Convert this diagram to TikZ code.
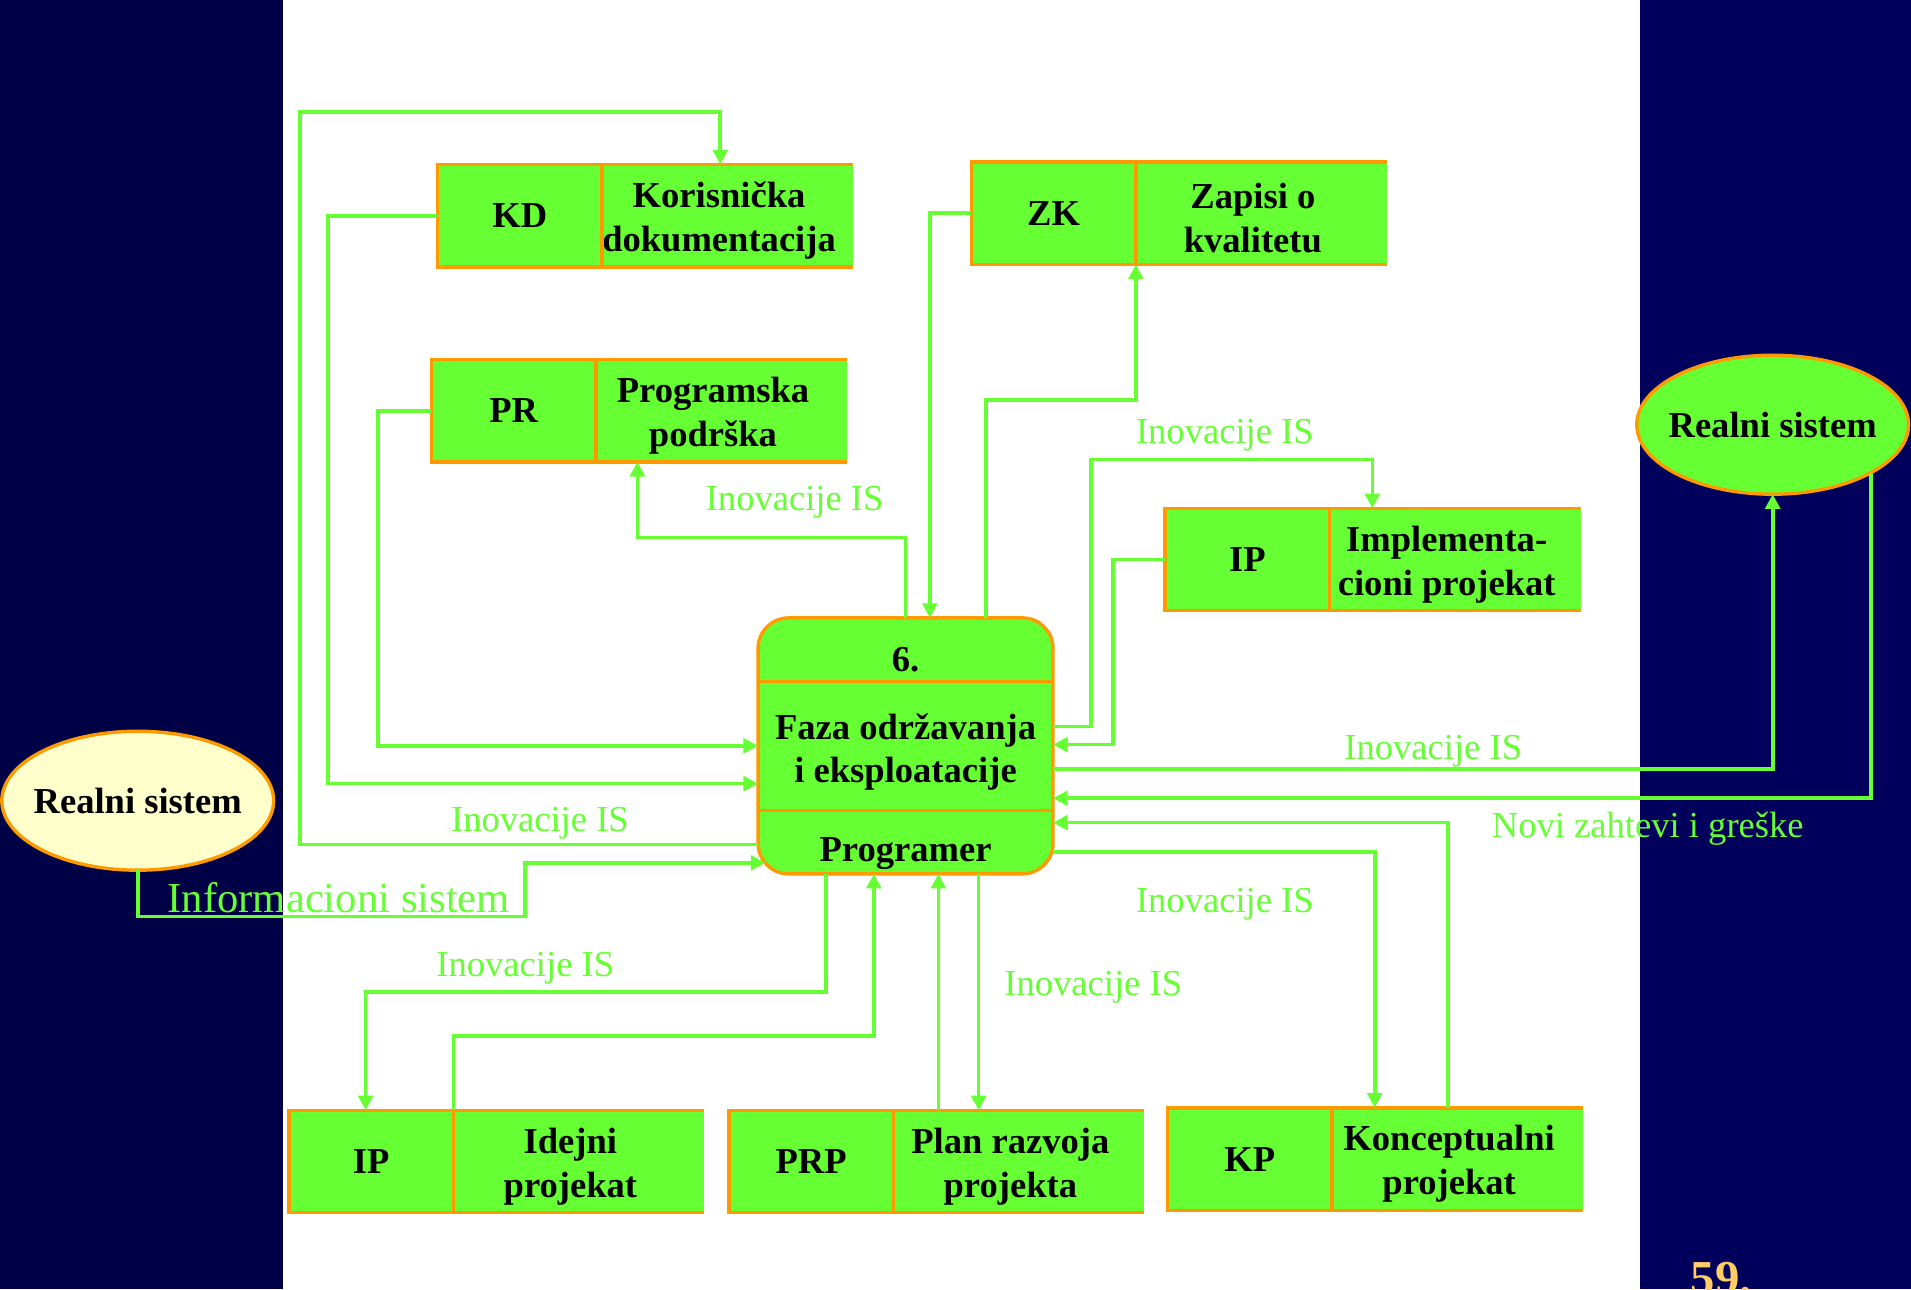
\documentclass[tikz,border=0pt]{standalone}
\usepackage{fontspec}
\setmainfont{Liberation Serif}
\usetikzlibrary{arrows.meta,positioning,calc,shapes.geometric}

\definecolor{navyL}{HTML}{000046}
\definecolor{navyR}{HTML}{00005C}
\definecolor{dfdgreen}{HTML}{66FF33}
\definecolor{dfdorange}{HTML}{FF9900}
\definecolor{extyellow}{HTML}{FFFFCC}
\definecolor{pagenum}{HTML}{FFCC66}

\begin{document}
\begin{tikzpicture}[x=0.5pt,y=-0.5pt,>={Triangle[length=6pt,width=6pt]},
  store/.style={fill=dfdgreen,minimum height=42pt,inner sep=0pt,outer sep=0pt,align=center,font=\fontsize{15}{18}\selectfont\bfseries},
  sid/.style={store,minimum width=67.5pt},
  sname/.style={store,minimum width=103pt,label={[ptxt,xshift=-3.5pt,yshift=-2pt]center:{#1}}},
  border/.style={draw=dfdorange,line width=1.4pt},
  flow/.style={draw=dfdgreen,line width=1.5pt},
  proc/.style={border,fill=dfdgreen,rounded corners=12.5pt,minimum width=121pt,minimum height=105pt,inner sep=0pt,outer sep=0pt},
  ptxt/.style={font=\fontsize{15}{18}\selectfont\bfseries,align=center,inner sep=0pt},
  ext/.style={border,ellipse,minimum width=111.5pt,minimum height=57pt,inner sep=0pt,outer sep=0pt,label={[ptxt]center:#1}},
  lab/.style={text=dfdgreen,font=\fontsize{15}{18}\selectfont,inner sep=0pt,anchor=base}]
  \useasboundingbox (0,0) rectangle (1568,1058);
  % slide background
  \fill[navyL] (0,0) rectangle (232,1058);
  \fill[navyR] (1346,0) rectangle (1568,1058);
  \fill[white] (232,0) rectangle (1346,1058);

  % data stores
  \node[sid] (kd) at (426.5,177) {KD};
  \node[sname={Korisnička\\dokumentacija},right=0pt of kd] (kdname) {};
  \node[sid] (zk) at (864.5,175) {ZK};
  \node[sname={Zapisi o\\kvalitetu},right=0pt of zk] (zkname) {};
  \node[sid] (pr) at (421.5,337) {PR};
  \node[sname={Programska\\podrška},right=0pt of pr] (prname) {};
  \node[sid] (ipi) at (1023.5,459) {IP};
  \node[sname={Implementa-\\cioni projekat},right=0pt of ipi] (ipiname) {};
  \node[sid] (ipd) at (304.5,953) {IP};
  \node[sname={Idejni\\projekat},right=0pt of ipd] (ipdname) {};
  \node[sid] (prp) at (665.5,953) {PRP};
  \node[sname={Plan razvoja\\projekta},right=0pt of prp] (prpname) {};
  \node[sid] (kp) at (1025.5,951) {KP};
  \node[sname={Konceptualni\\projekat},right=0pt of kp] (kpname) {};
  \foreach \s in {kd,zk,pr,ipi,ipd,prp,kp}{
    \draw[border] (\s name.north east) -- (\s.north west) -- (\s.south west) -- (\s name.south east);
    \draw[border] (\s.north east) -- (\s.south east);
  }

  % process 6
  \node[proc] (proc) at (743,612) {};
  \draw[border] (proc.west |- 0,559) -- (proc.east |- 0,559);
  \draw[border] (proc.west |- 0,665) -- (proc.east |- 0,665);
  \node[ptxt] (procnum) at (743,541) {6.};
  \node[ptxt] (proctitle) at (743,617) {Faza održavanja\\i eksploatacije};
  \node[ptxt] (procrole) at (743,700) {Programer};

  % external entities
  \node[ext=Realni sistem,fill=extyellow] (realL) at (113,657) {};
  \node[ext=Realni sistem,fill=dfdgreen] (realR) at (1454.5,348.5) {};

  % flows
  \draw[flow,->] (proc.west |- 0,693) -| (246,92) -| (591,0 |- kdname.north);
  \draw[flow,->] (kd.west) -| (269,643) -- (proc.west |- 0,643);
  \draw[flow,->] (pr.west) -| (310,612) -- (proc.west |- 0,612);
  \draw[flow,->] (proc.north) |- (523,441) -- (523,0 |- prname.south);
  \draw[flow,->] (zk.west) -| (763,0 |- proc.north);
  \draw[flow,->] (809,0 |- proc.north) |- (932,328) -- (zk.south east);
  \draw[flow,->] (proc.east |- 0,596) -| (895,377) -| (1126,0 |- ipiname.north);
  \draw[flow,->] (ipi.west) -| (913,611) -- (proc.east |- 0,611);
  \draw[flow,->] (proc.east |- 0,631) -| (realR.south);
  \draw[flow,->] (realR.-26) |- (proc.east |- 0,655);
  \draw[flow,->] (1188,0 |- kpname.north) |- (proc.east |- 0,675);
  \draw[flow,->] (proc.east |- 0,699) -| (1128,0 |- kpname.north);
  \draw[flow,->] (803,0 |- proc.south) -- (803,0 |- prpname.north);
  \draw[flow,->] (770,0 |- prpname.north) -- (770,0 |- proc.south);
  \draw[flow,->] (ipd.north east) |- (717,850) -- (717,0 |- proc.south);
  \draw[flow,->] (678,0 |- proc.south) |- (300,814) -- (300,0 |- ipd.north);
  \draw[flow,->] (realL.south) |- (431,752) |- ($(proc.south west)+(6,-9)$);

  % flow labels
  \node[lab] (lbkd) at (443,682) {Inovacije IS};
  \node[lab] (lbpr) at (652,419) {Inovacije IS};
  \node[lab] (lbipi) at (1005,364) {Inovacije IS};
  \node[lab] (lbreal) at (1176,623) {Inovacije IS};
  \node[lab] (lbkp) at (1005,749) {Inovacije IS};
  \node[lab] (lbprp) at (897,817) {Inovacije IS};
  \node[lab] (lbipd) at (431,801) {Inovacije IS};
  \node[lab] (lbnovi) at (1352,687) {Novi zahtevi i greške};
  \node[lab,font=\fontsize{17.5}{21}\selectfont] (lbis) at (278,749) {Informacioni sistem};

  \node[font=\fontsize{20}{24}\selectfont\bfseries,text=pagenum,anchor=base west,inner sep=0pt] (pagenr) at (1387,1062) {59.};
\end{tikzpicture}
\end{document}
